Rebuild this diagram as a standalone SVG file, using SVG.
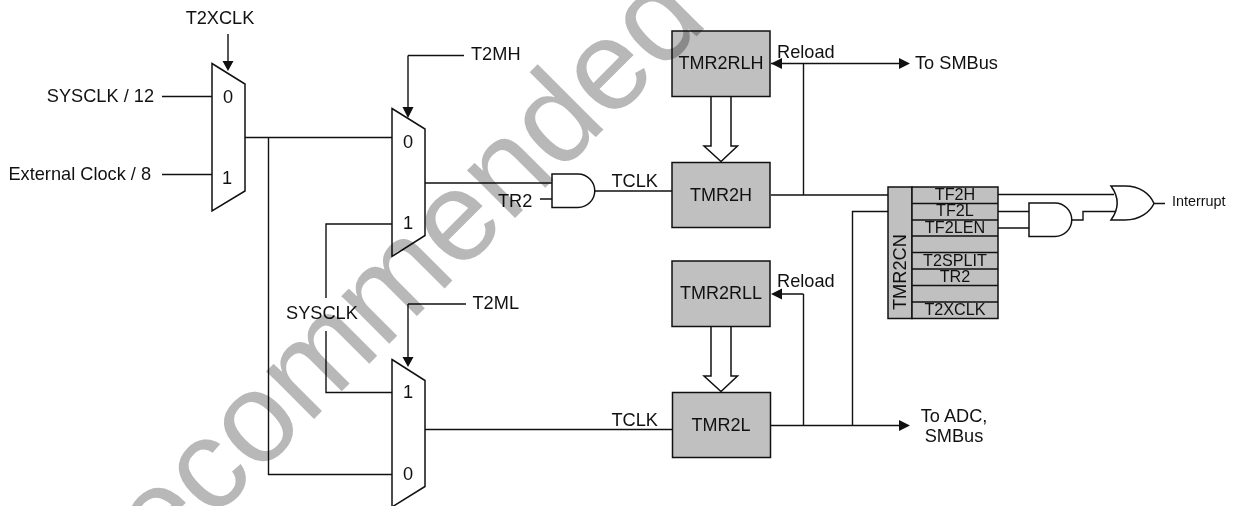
<svg xmlns="http://www.w3.org/2000/svg" width="1233" height="506" viewBox="0 0 1233 506">
<style>
text{font-family:"Liberation Sans",Arial,sans-serif;font-size:18.2px;fill:#111}
.s{font-size:14.4px}.r{font-size:16.2px}.b{font-size:18px}
.m{text-anchor:middle}.e{text-anchor:end}
.shape{fill:#fff;stroke:#111;stroke-width:1.5}
.box{fill:#c0c0c0;stroke:#111;stroke-width:1.5}
.w{fill:none;stroke:#111;stroke-width:1.4}
.a{fill:#111;stroke:none}
#watermark{mix-blend-mode:multiply}
#watermark text{font-size:128px;fill:#b8b8b8}
</style>
<rect width="1233" height="506" fill="#fff"/>
<g id="connectors">
<path class="w" d="M162 96.500H212M162 174.500H212M245 137.500H392M268.500 137.500V474.500H392M425 183H552M540 199H552M595 191H672M392 224H326V298M326 331V392.500H392M425 429.500H672M408 55.500H464M408 55.500V110M408 304H466M408 304V360M228 34V64"/>
<path class="w" d="M771 63.500H905M771 195H900M803.500 63.500V195M771 425.500H900M803.500 294H775M803.500 294V425.500M852.500 425.500V211.500H900"/>
<path class="w" d="M998 194.500H1114M998 211.500H1029M998 228H1029M1072 220H1083V211.500H1116M1154 203.500H1165"/>
<path class="a" d="M228 71L222.500 61H233.500ZM408 118L402.500 107H413.500ZM408 367L402.500 357H413.500ZM771 63.500L782 58V69ZM910 63.500L899 58V69ZM771 294L782 288.500V299.500ZM910 425.500L899 420V431ZM910 195L899 189.500V200.500ZM910 211.500L899 206V217Z"/>
<path class="shape" d="M711 97V146H704L721 161.500L737.500 146H731V97"/>
<path class="shape" d="M711 327V376H704L721 391.500L737.500 376H731V327"/>
</g>
<g id="mux1"><path class="shape" d="M212 63.500L245 84V191L212 211Z"/><text class="m" x="228" y="103">0</text><text class="m" x="227" y="184">1</text></g>
<g id="mux2"><path class="shape" d="M392 108.500L425 129V235.500L392 256.500Z"/><text class="m" x="408" y="148">0</text><text class="m" x="408" y="229">1</text></g>
<g id="mux3"><path class="shape" d="M392 359.500L425 380.500V486.500L392 507Z"/><text class="m" x="408" y="398">1</text><text class="m" x="408" y="480">0</text></g>
<g id="and1"><path class="shape" d="M552 174H578A16.750 16.750 0 0 1 578 207.500H552Z"/></g>
<g id="and2"><path class="shape" d="M1029 203H1055A16.750 16.750 0 0 1 1055 236.500H1029Z"/></g>
<g id="or1"><path class="shape" d="M1111 186H1125C1140 186 1150 194 1154 203.500C1150 212 1140 220 1125 220H1111C1119 209 1119 197 1111 186Z"/></g>
<g id="tmr2rlh"><rect class="box" x="672" y="31" width="98" height="65.500"/><text class="m b" x="721" y="69">TMR2RLH</text></g>
<g id="tmr2h"><rect class="box" x="672" y="162.500" width="98" height="65"/><text class="m b" x="721" y="200.500">TMR2H</text></g>
<g id="tmr2rll"><rect class="box" x="672" y="261" width="98" height="65.500"/><text class="m b" x="721" y="299">TMR2RLL</text></g>
<g id="tmr2l"><rect class="box" x="672.500" y="392.500" width="98" height="65"/><text class="m b" x="721" y="431">TMR2L</text></g>
<g id="tmr2cn">
<rect class="box" x="888" y="187" width="24" height="131.500"/>
<rect class="box" x="912" y="187" width="86" height="131.500"/>
<path class="w" d="M912 203.500H998M912 220H998M912 236H998M912 252.500H998M912 269H998M912 285.500H998M912 302H998"/>
<text class="m r" x="955" y="200">TF2H</text><text class="m r" x="955" y="216">TF2L</text><text class="m r" x="955" y="232.500">TF2LEN</text><text class="m r" x="955" y="266">T2SPLIT</text><text class="m r" x="955" y="282">TR2</text><text class="m r" x="955" y="315">T2XCLK</text>
<text transform="translate(906 310) rotate(-90)">TMR2CN</text>
</g>
<g id="labels">
<text class="m" x="220" y="24">T2XCLK</text>
<text class="e" x="154" y="102">SYSCLK / 12</text>
<text class="e" x="151" y="180">External Clock / 8</text>
<text x="471" y="60">T2MH</text>
<text x="472.500" y="309">T2ML</text>
<text x="286" y="319">SYSCLK</text>
<text x="498" y="207">TR2</text>
<text x="611.500" y="187">TCLK</text>
<text x="611.500" y="425.500">TCLK</text>
<text x="777" y="57.500">Reload</text>
<text x="777" y="287">Reload</text>
<text x="915" y="69">To SMBus</text>
<text class="m" x="954" y="421.500">To ADC,</text>
<text class="m" x="954" y="441.500">SMBus</text>
<text class="s" x="1172" y="206">Interrupt</text>
</g>
<g id="watermark"><text transform="translate(161.700 571.300) rotate(-45)">ecommended</text></g>
</svg>
